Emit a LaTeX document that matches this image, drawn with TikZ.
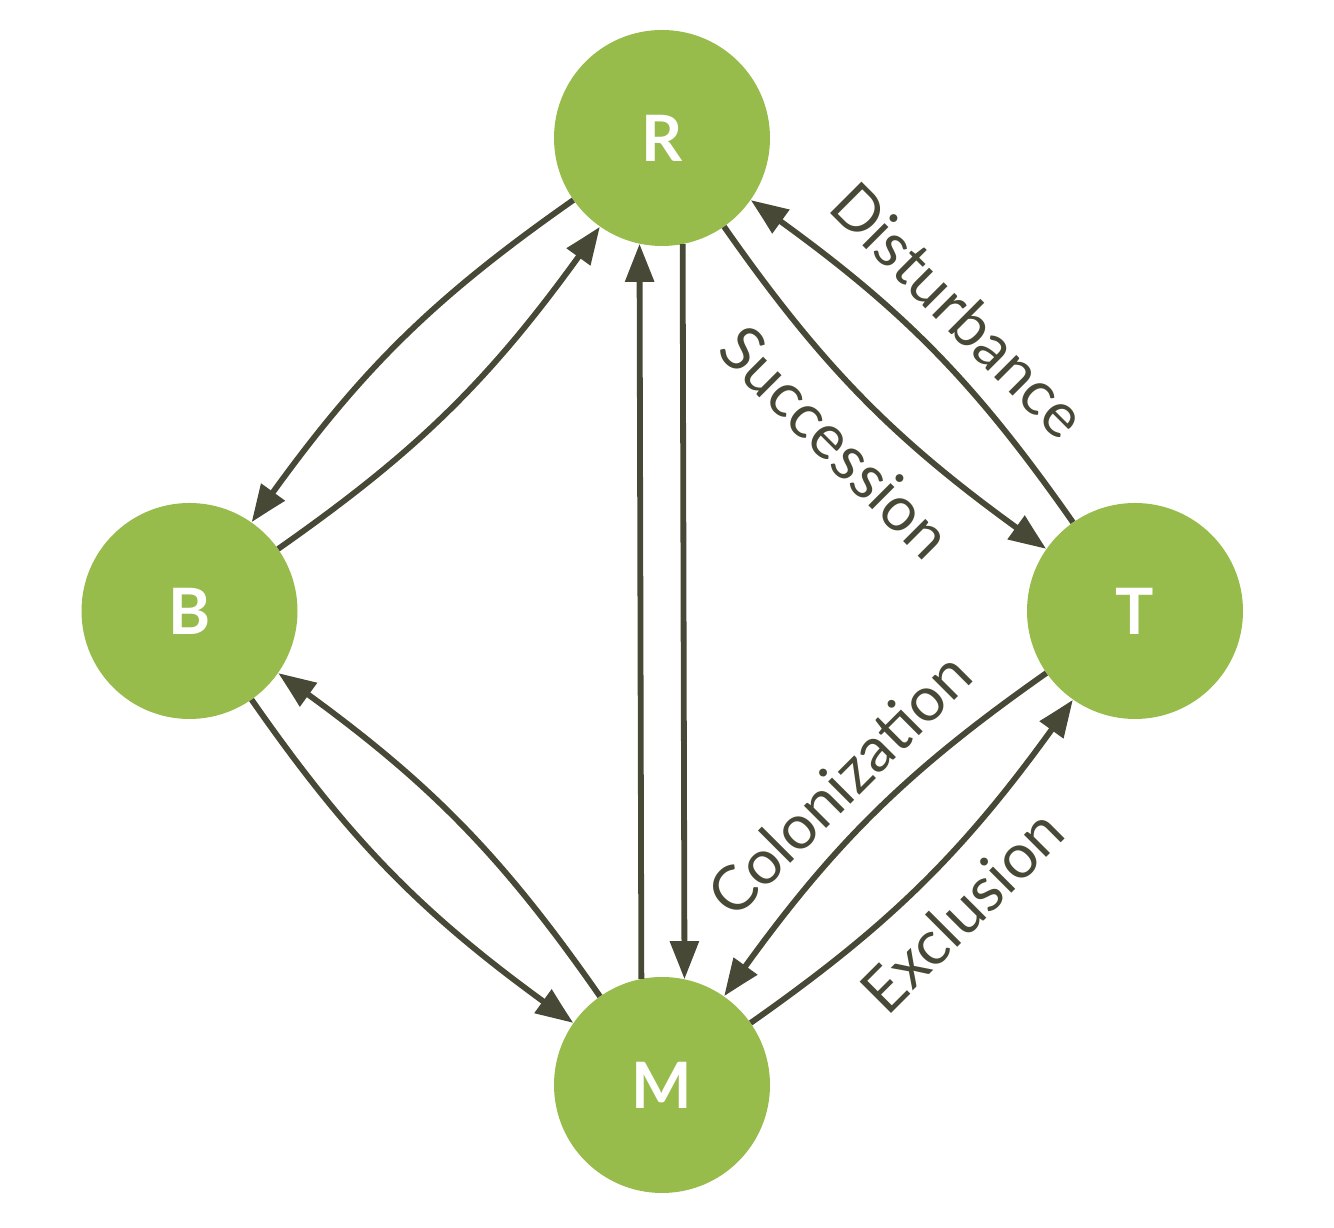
\documentclass[tikz,border=0pt]{standalone}
\usepackage{fontspec}
\setmainfont{Lato}
\usetikzlibrary{arrows.meta,bending}
\definecolor{leaf}{RGB}{151,188,75}
\definecolor{ink}{RGB}{71,73,54}
\begin{document}
\begin{tikzpicture}[x=1pt,y=1pt,
  state/.style={circle,fill=leaf,draw=none,minimum size=216pt,inner sep=0pt,
    text=white,font=\fontsize{64}{64}\selectfont\bfseries},
  flow/.style={draw=ink,line width=5.8pt,-{Triangle[length=38pt,width=28pt,bend]}},
  lab/.style={text=ink,font=\fontsize{62}{62}\selectfont,inner sep=0pt}]
\useasboundingbox (0,0) rectangle (1334,1228);
\node[state] (R) at (662,1090) {R};
\node[state] (B) at (189.5,617) {B};
\node[state] (T) at (1135,617) {T};
\node[state] (M) at (662,143) {M};
% vertical pair
\draw[flow] (M.101.2) -- (R.258.8);
\draw[flow] (R.281.2) -- (M.78.8);
% R - B
\draw[flow] (R.215) to[bend right=10] (B.55);
\draw[flow] (B.35) to[bend right=10] (R.235);
% B - M
\draw[flow] (B.305) to[bend right=10] (M.145);
\draw[flow] (M.125) to[bend right=10] (B.325);
% R - T
\draw[flow] (R.305) to[bend right=10] (T.145);
\draw[flow] (T.125) to[bend right=10] (R.325);
% T - M
\draw[flow] (T.215) to[bend right=10] (M.55);
\draw[flow] (M.35) to[bend right=10] (T.235);
% labels
\node[lab,rotate=-45] (dist) at (959,918) {Disturbance};
\node[lab,rotate=-45] (succ) at (836,786) {Succession};
\node[lab,rotate=45] (colo) at (839,444) {Colonization};
\node[lab,rotate=45] (excl) at (962,317) {Exclusion};
\end{tikzpicture}
\end{document}
